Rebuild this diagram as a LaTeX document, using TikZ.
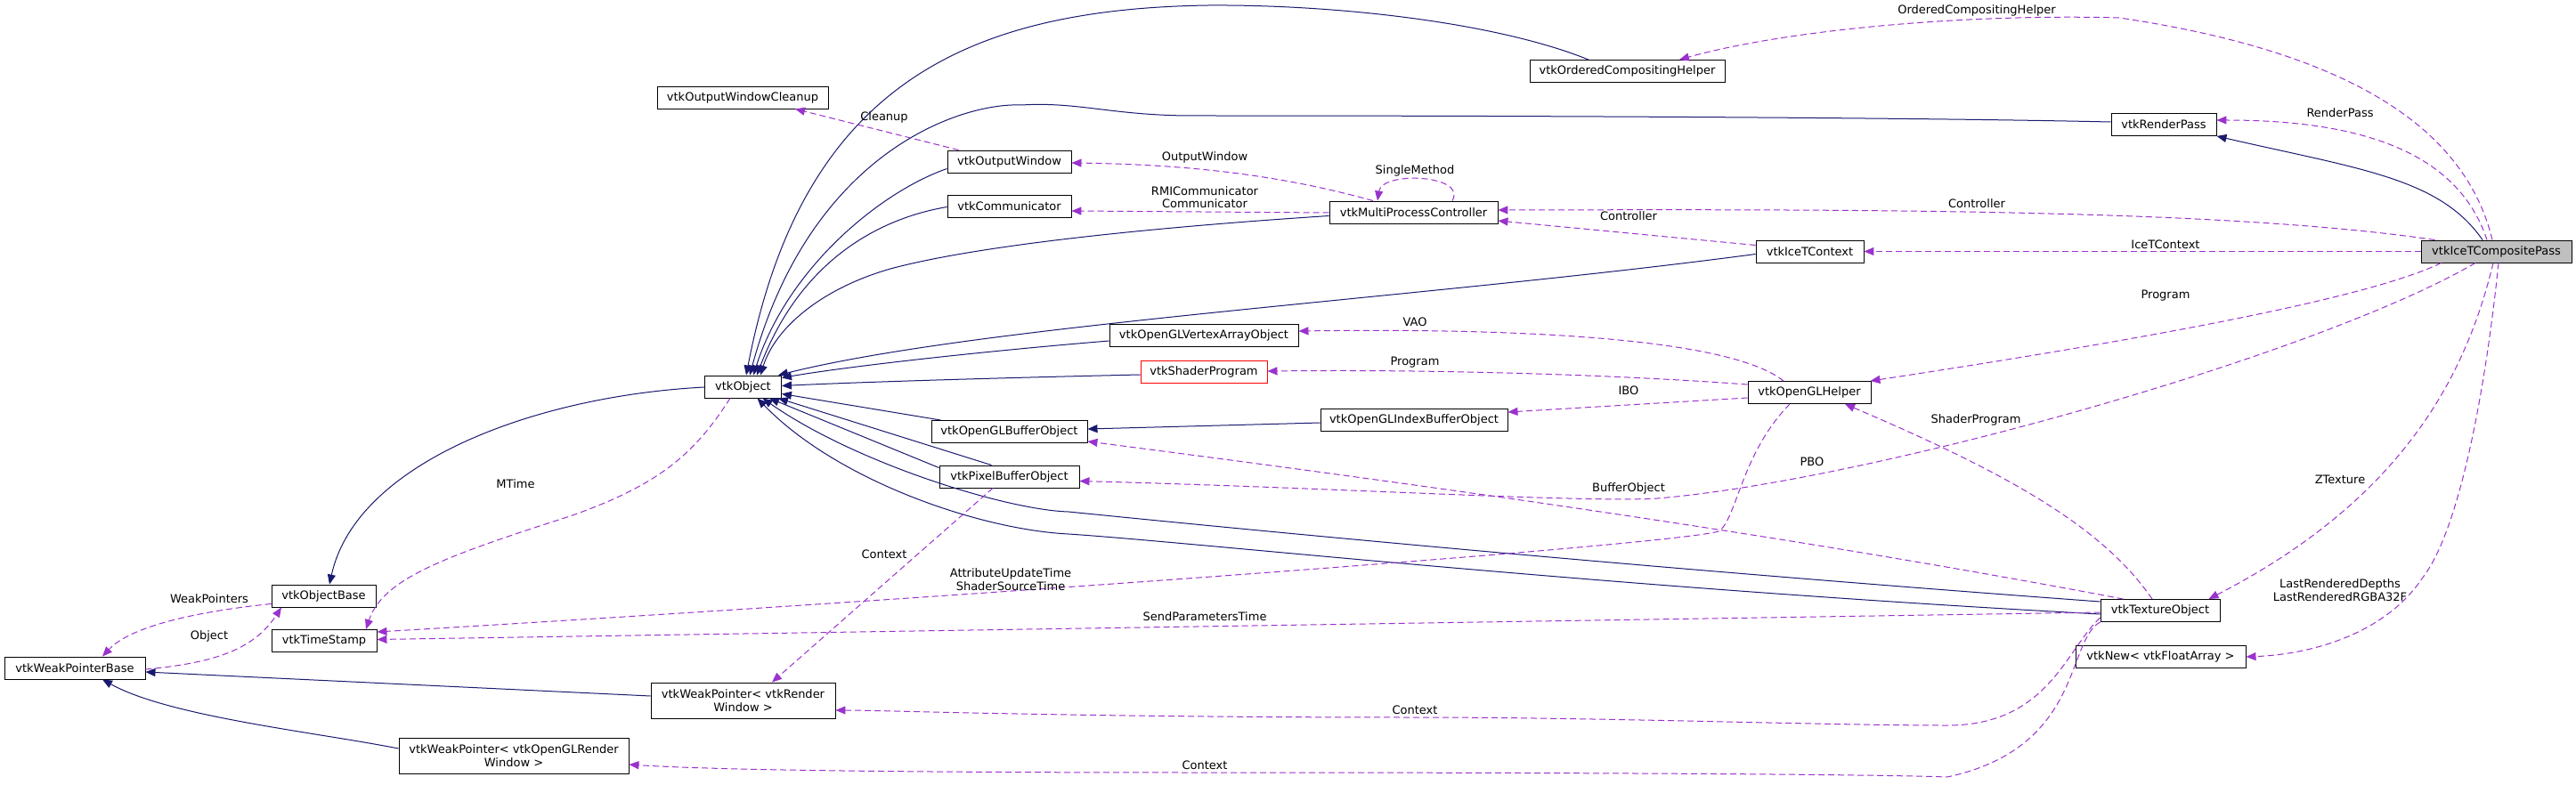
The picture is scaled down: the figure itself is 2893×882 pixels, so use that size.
\documentclass[tikz,border=0pt]{standalone}
\usepackage{fontspec}
\setmainfont{DejaVu Sans}
\usetikzlibrary{arrows.meta}
\definecolor{navyc}{HTML}{191970}
\definecolor{purp}{HTML}{9A32CD}
\definecolor{boxgray}{HTML}{BFBFBF}
\begin{document}
\begin{tikzpicture}[x=1pt,y=-1pt,
  cls/.style={draw=black, line width=0.9pt, fill=white, inner sep=0pt, font=\fontsize{13}{15}\selectfont, align=center, minimum height=25pt},
  lbl/.style={inner sep=0pt, font=\fontsize{13}{14.5}\selectfont, align=center},
  inh/.style={draw=navyc, line width=1pt, -{Triangle[length=11pt,width=9pt]}},
  usg/.style={draw=purp, line width=1pt, dash pattern=on 7pt off 4pt, -{Triangle[length=11pt,width=9pt]}}]
\useasboundingbox (0,0) rectangle (2893,882);
\fill[white] (0,0) rectangle (2893,882);

% nodes
\node[cls, minimum width=192pt] (cleanup) at (834,109.5) {vtkOutputWindowCleanup};
\node[cls, minimum width=86pt] (obj) at (834.5,434.5) {vtkObject};
\node[cls, minimum width=117pt] (objbase) at (363.5,669.5) {vtkObjectBase};
\node[cls, minimum width=118pt] (ts) at (364,720) {vtkTimeStamp};
\node[cls, minimum width=158pt] (wpb) at (84,750.5) {vtkWeakPointerBase};
\node[cls, minimum width=207pt, minimum height=40pt] (wprw) at (834.5,787) {vtkWeakPointer< vtkRender\\Window >};
\node[cls, minimum width=258pt, minimum height=40pt] (wpogl) at (577,849) {vtkWeakPointer< vtkOpenGLRender\\Window >};
\node[cls, minimum width=219pt] (ocomp) at (1827.5,80) {vtkOrderedCompositingHelper};
\node[cls, minimum width=139pt] (owin) at (1133.5,181.5) {vtkOutputWindow};
\node[cls, minimum width=139pt] (comm) at (1133.5,231.5) {vtkCommunicator};
\node[cls, minimum width=189pt] (mpc) at (1587.5,238.5) {vtkMultiProcessController};
\node[cls, minimum width=121pt] (icetctx) at (2032.5,282.5) {vtkIceTContext};
\node[cls, minimum width=169pt, fill=boxgray] (icetpass) at (2803.5,282.5) {vtkIceTCompositePass};
\node[cls, minimum width=118pt] (rpass) at (2430,140) {vtkRenderPass};
\node[cls, minimum width=212pt] (vao) at (1352,377) {vtkOpenGLVertexArrayObject};
\node[cls, minimum width=142pt, draw=red] (shprog) at (1352,418) {vtkShaderProgram};
\node[cls, minimum width=138pt] (glhelper) at (2032,441) {vtkOpenGLHelper};
\node[cls, minimum width=210pt] (ibo) at (1588,472) {vtkOpenGLIndexBufferObject};
\node[cls, minimum width=175pt] (glbo) at (1133.5,485) {vtkOpenGLBufferObject};
\node[cls, minimum width=157pt] (pbo) at (1133.5,535.5) {vtkPixelBufferObject};
\node[cls, minimum width=134pt] (tex) at (2426,686) {vtkTextureObject};
\node[cls, minimum width=191pt] (vnew) at (2426.5,737.5) {vtkNew< vtkFloatArray >};

% inheritance edges
\draw[inh] ([shift={(-43.5,0)}]ocomp.north) .. controls (1680,25) and (1500,5) .. (1357,6) .. controls (1080,10) and (900,100) .. ([shift={(3.5,0)}]obj.north);
\draw[inh] ([shift={(0,-3)}]rpass.west) .. controls (2100,131) and (1600,130) .. (1340,130) .. controls (1250,130) and (1210,114) .. (1147,118) .. controls (1080,115) and (910,170) .. ([shift={(7.5,0)}]obj.north);
\draw[inh] ([shift={(0,8)}]owin.west) .. controls (990,215) and (885,300) .. ([shift={(11.5,0)}]obj.north);
\draw[inh] ([shift={(0,1)}]comm.west) .. controls (990,245) and (900,290) .. ([shift={(15.5,0)}]obj.north);
\draw[inh] ([shift={(0,4)}]mpc.west) .. controls (1300,255) and (1100,275) .. (1000,302) .. controls (920,325) and (870,370) .. ([shift={(19.5,0)}]obj.north);
\draw[inh] ([shift={(0,3)}]icetctx.west) .. controls (1600,335) and (1100,365) .. ([shift={(-4,0)}]obj.north east);
\draw[inh] ([shift={(0,6)}]vao.west) .. controls (1100,395) and (950,412) .. ([shift={(0,-10)}]obj.east);
\draw[inh] ([shift={(0,3)}]shprog.west) .. controls (1100,425) and (950,430) .. ([shift={(0,-1)}]obj.east);
\draw[inh] ([shift={(11,0)}]glbo.north west) -- ([shift={(0,8)}]obj.east);
\draw[inh] ([shift={(-20,0)}]pbo.north) -- ([shift={(-4,0)}]obj.south east);
\draw[inh] ([shift={(0,3)}]pbo.north west) -- ([shift={(-14,0)}]obj.south east);
\draw[inh] ([shift={(0,-10)}]tex.west) .. controls (1800,635) and (1350,590) .. (1200,575) .. controls (1130,573) and (960,520) .. ([shift={(22,0)}]obj.south);
\draw[inh] ([shift={(0,4)}]tex.west) .. controls (1800,660) and (1350,610) .. (1200,600) .. controls (1100,595) and (940,540) .. ([shift={(16,0)}]obj.south);
\draw[inh] ([shift={(0,3)}]ibo.west) -- ([shift={(0,-3)}]glbo.east);
\draw[inh] ([shift={(-15.5,0)}]icetpass.north) .. controls (2740,200) and (2650,190) .. (rpass.south east);
\draw[inh] ([shift={(0,0.5)}]obj.west) .. controls (600,445) and (400,520) .. ([shift={(6.5,0)}]objbase.north);
\draw[inh] ([shift={(0,-5)}]wprw.west) -- ([shift={(0,4.5)}]wpb.east);
\draw[inh] ([shift={(0,-8)}]wpogl.west) .. controls (350,822) and (190,805) .. ([shift={(31,0)}]wpb.south);

% usage edges
\draw[usg] ([shift={(13,0)}]owin.north west) -- ([shift={(59,0)}]cleanup.south);
\draw[usg] ([shift={(-45.5,0)}]mpc.north) .. controls (1450,200) and (1350,185) .. ([shift={(0,1.5)}]owin.east);
\draw[usg] ([shift={(43.5,0)}]mpc.north) .. controls (1648,196) and (1552,192) .. ([shift={(-40.5,0)}]mpc.north);
\draw[usg] ([shift={(0,0.5)}]mpc.west) -- ([shift={(0,5.5)}]comm.east);
\draw[usg] ([shift={(0,-7)}]icetctx.west) -- ([shift={(0,9.5)}]mpc.east);
\draw[usg] ([shift={(16,0)}]icetpass.north west) .. controls (2500,235) and (2100,235) .. ([shift={(0,-2.5)}]mpc.east);
\draw[usg] ([shift={(-4.5,0)}]icetpass.north) .. controls (2770,150) and (2650,60) .. (2380,20) .. controls (2200,15) and (2000,35) .. ([shift={(58.5,0)}]ocomp.north);
\draw[usg] ([shift={(-10.5,0)}]icetpass.north) .. controls (2760,170) and (2650,135) .. ([shift={(0,-5)}]rpass.east);
\draw[usg] (icetpass.west) -- (icetctx.east);
\draw[usg] ([shift={(23,0)}]icetpass.south west) .. controls (2650,340) and (2350,390) .. ([shift={(-1,0)}]glhelper.north east);
\draw[usg] ([shift={(-23.5,0)}]icetpass.south) .. controls (2600,400) and (2100,540) .. (1861,560) .. controls (1780,565) and (1500,548) .. ([shift={(0,5)}]pbo.east);
\draw[usg] ([shift={(-3.5,0)}]icetpass.south) .. controls (2770,420) and (2700,560) .. ([shift={(-13,0)}]tex.north east);
\draw[usg] ([shift={(2.5,0)}]icetpass.south) .. controls (2790,450) and (2760,600) .. (2720,650) .. controls (2680,710) and (2600,735) .. ([shift={(0,0.5)}]vnew.east);
\draw[usg] ([shift={(-29,0)}]glhelper.north) .. controls (1950,385) and (1750,368) .. ([shift={(0,-5)}]vao.east);
\draw[usg] ([shift={(0,-9)}]glhelper.west) .. controls (1800,420) and (1600,415) .. ([shift={(0,-1)}]shprog.east);
\draw[usg] ([shift={(0,6)}]glhelper.west) -- ([shift={(0,-9)}]ibo.east);
\draw[usg] ([shift={(-22,0)}]glhelper.south) .. controls (1955,510) and (1950,585) .. (1930,597) .. controls (1880,612) and (1100,670) .. ([shift={(0,-10)}]ts.east);
\draw[usg] ([shift={(0,2)}]tex.west) -- ([shift={(0,-1.5)}]ts.east);
\draw[usg] ([shift={(-9,0)}]tex.north) .. controls (2360,590) and (2250,530) .. ([shift={(40,0)}]glhelper.south);
\draw[usg] ([shift={(26,0)}]tex.north west) .. controls (2000,600) and (1600,545) .. ([shift={(0,-2)}]glbo.south east);
\draw[usg] ([shift={(0,8)}]tex.west) .. controls (2320,730) and (2300,815) .. (2187,815) .. controls (2050,815) and (1800,806) .. (1589,806) .. controls (1200,806) and (1000,798) .. ([shift={(0,11)}]wprw.east);
\draw[usg] (tex.south west) .. controls (2320,720) and (2340,840) .. (2187,873) .. controls (2100,870) and (1800,868) .. (1353,868) .. controls (1000,868) and (800,865) .. ([shift={(0,10)}]wpogl.east);
\draw[usg] ([shift={(-18.5,0)}]pbo.south) -- ([shift={(32.5,0)}]wprw.north);
\draw[usg] ([shift={(-14.5,0)}]obj.south) .. controls (780,510) and (740,545) .. (640,580) .. controls (500,625) and (430,650) .. ([shift={(47,0)}]ts.north);
\draw[usg] ([shift={(0,9)}]objbase.west) .. controls (240,685) and (150,700) .. ([shift={(31,0)}]wpb.north);
\draw[usg] ([shift={(0,1.5)}]wpb.east) .. controls (240,745) and (285,730) .. ([shift={(-47.5,0)}]objbase.south);

% labels
\node[lbl] (lcleanup) at (993,132) {Cleanup};
\node[lbl] (lowin) at (1353,177) {OutputWindow};
\node[lbl] (lsingle) at (1589,192) {SingleMethod};
\node[lbl] (lcomm) at (1353,221.5) {RMICommunicator\\Communicator};
\node[lbl] (lctrl1) at (1829,243) {Controller};
\node[lbl] (lctrl2) at (2220,229) {Controller};
\node[lbl] (locomp) at (2220,12) {OrderedCompositingHelper};
\node[lbl] (lrpass) at (2628,127) {RenderPass};
\node[lbl] (licet) at (2432,275) {IceTContext};
\node[lbl] (lprog1) at (2432,332) {Program};
\node[lbl] (lvao) at (1589,362) {VAO};
\node[lbl] (lprog2) at (1589,407) {Program};
\node[lbl] (libo) at (1829,439) {IBO};
\node[lbl] (lshprog) at (2219,472) {ShaderProgram};
\node[lbl] (lpbo) at (2035,519) {PBO};
\node[lbl] (lbufobj) at (1829,549) {BufferObject};
\node[lbl] (lztex) at (2628,539) {ZTexture};
\node[lbl] (llast) at (2628,663) {LastRenderedDepths\\LastRenderedRGBA32F};
\node[lbl] (lattr) at (1135,651) {AttributeUpdateTime\\ShaderSourceTime};
\node[lbl] (lsend) at (1353,693) {SendParametersTime};
\node[lbl] (lctx1) at (1589,798) {Context};
\node[lbl] (lctx2) at (1353,860) {Context};
\node[lbl] (lctx3) at (993,623) {Context};
\node[lbl] (lmtime) at (579,544) {MTime};
\node[lbl] (lweak) at (235,673) {WeakPointers};
\node[lbl] (lobject) at (235,715) {Object};
\end{tikzpicture}
\end{document}
